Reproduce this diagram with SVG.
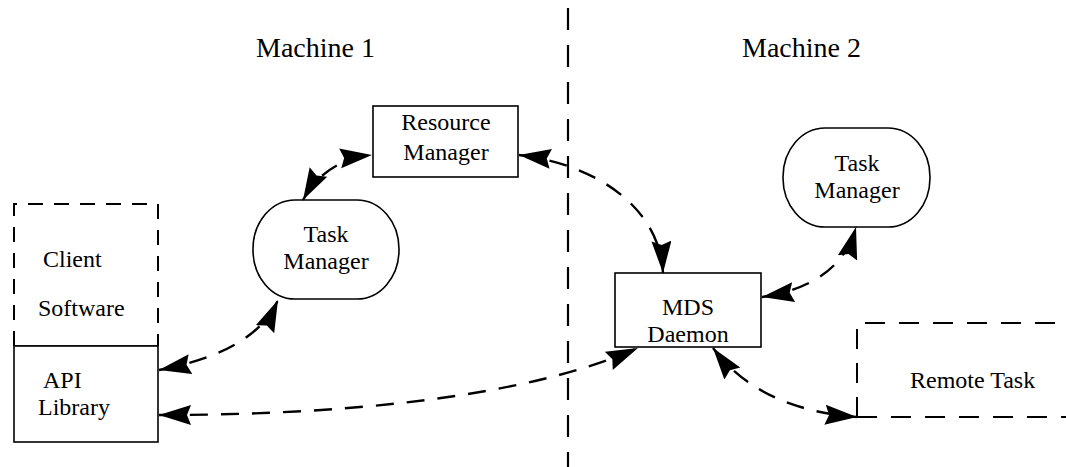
<svg xmlns="http://www.w3.org/2000/svg" width="1066" height="467" viewBox="0 0 1066 467">
  <style>
    .lbl { font-family: "Liberation Serif", "Times New Roman", serif; font-size: 24px; fill: #000; }
    .title { font-family: "Liberation Serif", "Times New Roman", serif; font-size: 28px; fill: #000; }
    .box { fill: #fff; stroke: #000; stroke-width: 1.6; }
    .dbox { fill: none; stroke: #000; stroke-width: 2; stroke-dasharray: 15 11; }
    .dbox2 { fill: none; stroke: #000; stroke-width: 2; stroke-dasharray: 20 14; }
    .divider { fill: none; stroke: #000; stroke-width: 2.2; stroke-dasharray: 22 15; }
    .conn { fill: none; stroke: #000; stroke-width: 2.4; stroke-dasharray: 18 13; marker-start: url(#head); marker-end: url(#head); }
  </style>
  <defs>
    <marker id="head" markerUnits="userSpaceOnUse" markerWidth="34" markerHeight="22" refX="32" refY="10" orient="auto-start-reverse">
      <path d="M0,0 L32,10 L0,20 L4,10 Z" fill="#000"/>
    </marker>
  </defs>

  <!-- machine boundary -->
  <line class="divider" x1="568" y1="8" x2="568" y2="467"/>

  <text class="title" x="256" y="57">Machine 1</text>
  <text class="title" x="742" y="57">Machine 2</text>

  <!-- client software with its API library -->
  <g id="client">
    <path class="dbox" d="M14,346 V204 H158 V346"/>
    <line x1="14" y1="346" x2="158" y2="346" stroke="#000" stroke-width="1.6"/>
    <text class="lbl" x="43" y="267">Client</text>
    <text class="lbl" x="38" y="316">Software</text>
  </g>
  <g id="api">
    <rect class="box" x="14" y="346" width="144" height="96"/>
    <text class="lbl" x="43" y="388">API</text>
    <text class="lbl" x="38" y="415">Library</text>
  </g>

  <g id="resource-manager">
    <rect class="box" x="373" y="106" width="145" height="71"/>
    <text class="lbl" x="446" y="130" text-anchor="middle">Resource</text>
    <text class="lbl" x="446" y="160" text-anchor="middle">Manager</text>
  </g>

  <g id="task-manager-1">
    <rect class="box" x="253" y="200" width="146" height="99" rx="42" ry="49"/>
    <text class="lbl" x="326" y="242" text-anchor="middle">Task</text>
    <text class="lbl" x="326" y="269" text-anchor="middle">Manager</text>
  </g>

  <g id="mds-daemon">
    <rect class="box" x="615" y="273" width="146" height="74"/>
    <text class="lbl" x="688" y="315" text-anchor="middle">MDS</text>
    <text class="lbl" x="688" y="342" text-anchor="middle">Daemon</text>
  </g>

  <g id="task-manager-2">
    <rect class="box" x="783" y="128" width="147" height="99" rx="42" ry="49"/>
    <text class="lbl" x="857" y="171" text-anchor="middle">Task</text>
    <text class="lbl" x="857" y="198" text-anchor="middle">Manager</text>
  </g>

  <g id="remote-task">
    <path class="dbox2" d="M857,417 V323 H1066"/>
    <path class="dbox2" d="M857,417 H1066"/>
    <text class="lbl" x="910" y="388">Remote Task</text>
  </g>

  <!-- bidirectional links -->
  <g id="connectors">
    <path class="conn" d="M303,200 Q325,160 372,155"/>
    <path class="conn" d="M159,370 Q255,352 278,300"/>
    <path class="conn" d="M159,415 C330,415 520,400 638,348"/>
    <path class="conn" d="M519,155 C600,165 660,210 663,273"/>
    <path class="conn" d="M762,297 Q840,285 856,227"/>
    <path class="conn" d="M713,348 Q760,410 857,417"/>
  </g>
</svg>
